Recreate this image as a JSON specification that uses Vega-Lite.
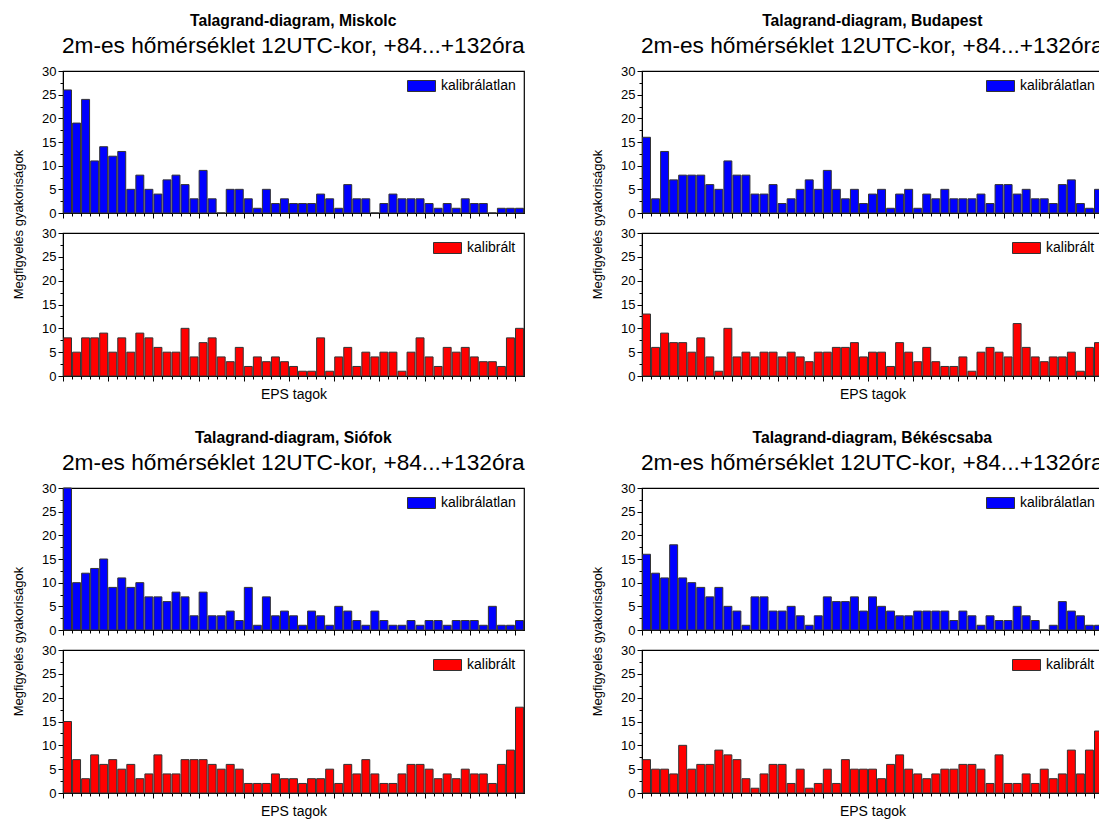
{
  "$schema": "https://vega.github.io/schema/vega-lite/v6.json",
  "padding": {"left": 11, "top": 13, "right": 0, "bottom": 0},
  "background": "white",
  "config": {
    "font": "Liberation Sans",
    "view": {"stroke": "#000", "strokeWidth": 1.2},
    "title": {"font": "Liberation Sans", "fontSize": 15.7, "fontWeight": "bold", "color": "#000", "subtitleFont": "Liberation Sans", "subtitleFontSize": 22.7, "subtitleColor": "#000", "subtitlePadding": 5, "offset": 6, "anchor": "middle", "dx": 25},
    "axis": {"labelFont": "Liberation Sans", "labelFontSize": 13, "labelColor": "#000", "titleFont": "Liberation Sans", "titleFontSize": 13, "titleFontWeight": "normal", "titleColor": "#000", "domainColor": "#000", "tickColor": "#000", "grid": false},
    "legend": {"orient": "top-right", "offset": 8, "padding": 0, "labelFont": "Liberation Sans", "labelFontSize": 14, "labelColor": "#000", "symbolType": "M-4.09,-1H1V1H-4.09Z", "symbolSize": 121, "symbolStrokeColor": "#333", "symbolStrokeWidth": 1, "labelOffset": 4}
  },
  "datasets": {
    "Miskolc": [
      {"tag":0,"kalibralatlan":26,"kalibralt":8},{"tag":1,"kalibralatlan":19,"kalibralt":5},{"tag":2,"kalibralatlan":24,"kalibralt":8},{"tag":3,"kalibralatlan":11,"kalibralt":8},{"tag":4,"kalibralatlan":14,"kalibralt":9},{"tag":5,"kalibralatlan":12,"kalibralt":5},{"tag":6,"kalibralatlan":13,"kalibralt":8},{"tag":7,"kalibralatlan":5,"kalibralt":5},{"tag":8,"kalibralatlan":8,"kalibralt":9},{"tag":9,"kalibralatlan":5,"kalibralt":8},
      {"tag":10,"kalibralatlan":4,"kalibralt":6},{"tag":11,"kalibralatlan":7,"kalibralt":5},{"tag":12,"kalibralatlan":8,"kalibralt":5},{"tag":13,"kalibralatlan":6,"kalibralt":10},{"tag":14,"kalibralatlan":3,"kalibralt":4},{"tag":15,"kalibralatlan":9,"kalibralt":7},{"tag":16,"kalibralatlan":3,"kalibralt":8},{"tag":17,"kalibralatlan":0,"kalibralt":4},{"tag":18,"kalibralatlan":5,"kalibralt":3},{"tag":19,"kalibralatlan":5,"kalibralt":6},
      {"tag":20,"kalibralatlan":3,"kalibralt":2},{"tag":21,"kalibralatlan":1,"kalibralt":4},{"tag":22,"kalibralatlan":5,"kalibralt":3},{"tag":23,"kalibralatlan":2,"kalibralt":4},{"tag":24,"kalibralatlan":3,"kalibralt":3},{"tag":25,"kalibralatlan":2,"kalibralt":2},{"tag":26,"kalibralatlan":2,"kalibralt":1},{"tag":27,"kalibralatlan":2,"kalibralt":1},{"tag":28,"kalibralatlan":4,"kalibralt":8},{"tag":29,"kalibralatlan":3,"kalibralt":1},
      {"tag":30,"kalibralatlan":1,"kalibralt":4},{"tag":31,"kalibralatlan":6,"kalibralt":6},{"tag":32,"kalibralatlan":3,"kalibralt":2},{"tag":33,"kalibralatlan":3,"kalibralt":5},{"tag":34,"kalibralatlan":0,"kalibralt":4},{"tag":35,"kalibralatlan":2,"kalibralt":5},{"tag":36,"kalibralatlan":4,"kalibralt":5},{"tag":37,"kalibralatlan":3,"kalibralt":1},{"tag":38,"kalibralatlan":3,"kalibralt":5},{"tag":39,"kalibralatlan":3,"kalibralt":8},
      {"tag":40,"kalibralatlan":2,"kalibralt":4},{"tag":41,"kalibralatlan":1,"kalibralt":2},{"tag":42,"kalibralatlan":2,"kalibralt":6},{"tag":43,"kalibralatlan":1,"kalibralt":5},{"tag":44,"kalibralatlan":3,"kalibralt":6},{"tag":45,"kalibralatlan":2,"kalibralt":4},{"tag":46,"kalibralatlan":2,"kalibralt":3},{"tag":47,"kalibralatlan":0,"kalibralt":3},{"tag":48,"kalibralatlan":1,"kalibralt":2},{"tag":49,"kalibralatlan":1,"kalibralt":8},
      {"tag":50,"kalibralatlan":1,"kalibralt":10}
    ],
    "Budapest": [
      {"tag":0,"kalibralatlan":16,"kalibralt":13},{"tag":1,"kalibralatlan":3,"kalibralt":6},{"tag":2,"kalibralatlan":13,"kalibralt":9},{"tag":3,"kalibralatlan":7,"kalibralt":7},{"tag":4,"kalibralatlan":8,"kalibralt":7},{"tag":5,"kalibralatlan":8,"kalibralt":5},{"tag":6,"kalibralatlan":8,"kalibralt":8},{"tag":7,"kalibralatlan":6,"kalibralt":4},{"tag":8,"kalibralatlan":5,"kalibralt":1},{"tag":9,"kalibralatlan":11,"kalibralt":10},
      {"tag":10,"kalibralatlan":8,"kalibralt":4},{"tag":11,"kalibralatlan":8,"kalibralt":5},{"tag":12,"kalibralatlan":4,"kalibralt":4},{"tag":13,"kalibralatlan":4,"kalibralt":5},{"tag":14,"kalibralatlan":6,"kalibralt":5},{"tag":15,"kalibralatlan":2,"kalibralt":4},{"tag":16,"kalibralatlan":3,"kalibralt":5},{"tag":17,"kalibralatlan":5,"kalibralt":4},{"tag":18,"kalibralatlan":7,"kalibralt":3},{"tag":19,"kalibralatlan":5,"kalibralt":5},
      {"tag":20,"kalibralatlan":9,"kalibralt":5},{"tag":21,"kalibralatlan":5,"kalibralt":6},{"tag":22,"kalibralatlan":3,"kalibralt":6},{"tag":23,"kalibralatlan":5,"kalibralt":7},{"tag":24,"kalibralatlan":2,"kalibralt":4},{"tag":25,"kalibralatlan":4,"kalibralt":5},{"tag":26,"kalibralatlan":5,"kalibralt":5},{"tag":27,"kalibralatlan":1,"kalibralt":2},{"tag":28,"kalibralatlan":4,"kalibralt":7},{"tag":29,"kalibralatlan":5,"kalibralt":5},
      {"tag":30,"kalibralatlan":1,"kalibralt":3},{"tag":31,"kalibralatlan":4,"kalibralt":6},{"tag":32,"kalibralatlan":3,"kalibralt":3},{"tag":33,"kalibralatlan":5,"kalibralt":2},{"tag":34,"kalibralatlan":3,"kalibralt":2},{"tag":35,"kalibralatlan":3,"kalibralt":4},{"tag":36,"kalibralatlan":3,"kalibralt":1},{"tag":37,"kalibralatlan":4,"kalibralt":5},{"tag":38,"kalibralatlan":2,"kalibralt":6},{"tag":39,"kalibralatlan":6,"kalibralt":5},
      {"tag":40,"kalibralatlan":6,"kalibralt":4},{"tag":41,"kalibralatlan":4,"kalibralt":11},{"tag":42,"kalibralatlan":5,"kalibralt":6},{"tag":43,"kalibralatlan":3,"kalibralt":4},{"tag":44,"kalibralatlan":3,"kalibralt":3},{"tag":45,"kalibralatlan":2,"kalibralt":4},{"tag":46,"kalibralatlan":6,"kalibralt":4},{"tag":47,"kalibralatlan":7,"kalibralt":5},{"tag":48,"kalibralatlan":2,"kalibralt":1},{"tag":49,"kalibralatlan":1,"kalibralt":6},
      {"tag":50,"kalibralatlan":5,"kalibralt":7}
    ],
    "Siofok": [
      {"tag":0,"kalibralatlan":30,"kalibralt":15},{"tag":1,"kalibralatlan":10,"kalibralt":7},{"tag":2,"kalibralatlan":12,"kalibralt":3},{"tag":3,"kalibralatlan":13,"kalibralt":8},{"tag":4,"kalibralatlan":15,"kalibralt":6},{"tag":5,"kalibralatlan":9,"kalibralt":7},{"tag":6,"kalibralatlan":11,"kalibralt":5},{"tag":7,"kalibralatlan":9,"kalibralt":6},{"tag":8,"kalibralatlan":10,"kalibralt":3},{"tag":9,"kalibralatlan":7,"kalibralt":4},
      {"tag":10,"kalibralatlan":7,"kalibralt":8},{"tag":11,"kalibralatlan":6,"kalibralt":4},{"tag":12,"kalibralatlan":8,"kalibralt":4},{"tag":13,"kalibralatlan":7,"kalibralt":7},{"tag":14,"kalibralatlan":3,"kalibralt":7},{"tag":15,"kalibralatlan":8,"kalibralt":7},{"tag":16,"kalibralatlan":3,"kalibralt":6},{"tag":17,"kalibralatlan":3,"kalibralt":5},{"tag":18,"kalibralatlan":4,"kalibralt":6},{"tag":19,"kalibralatlan":2,"kalibralt":5},
      {"tag":20,"kalibralatlan":9,"kalibralt":2},{"tag":21,"kalibralatlan":1,"kalibralt":2},{"tag":22,"kalibralatlan":7,"kalibralt":2},{"tag":23,"kalibralatlan":3,"kalibralt":4},{"tag":24,"kalibralatlan":4,"kalibralt":3},{"tag":25,"kalibralatlan":3,"kalibralt":3},{"tag":26,"kalibralatlan":1,"kalibralt":2},{"tag":27,"kalibralatlan":4,"kalibralt":3},{"tag":28,"kalibralatlan":3,"kalibralt":3},{"tag":29,"kalibralatlan":1,"kalibralt":5},
      {"tag":30,"kalibralatlan":5,"kalibralt":2},{"tag":31,"kalibralatlan":4,"kalibralt":6},{"tag":32,"kalibralatlan":2,"kalibralt":4},{"tag":33,"kalibralatlan":1,"kalibralt":7},{"tag":34,"kalibralatlan":4,"kalibralt":4},{"tag":35,"kalibralatlan":2,"kalibralt":2},{"tag":36,"kalibralatlan":1,"kalibralt":2},{"tag":37,"kalibralatlan":1,"kalibralt":4},{"tag":38,"kalibralatlan":2,"kalibralt":6},{"tag":39,"kalibralatlan":1,"kalibralt":6},
      {"tag":40,"kalibralatlan":2,"kalibralt":5},{"tag":41,"kalibralatlan":2,"kalibralt":3},{"tag":42,"kalibralatlan":1,"kalibralt":4},{"tag":43,"kalibralatlan":2,"kalibralt":3},{"tag":44,"kalibralatlan":2,"kalibralt":5},{"tag":45,"kalibralatlan":2,"kalibralt":4},{"tag":46,"kalibralatlan":1,"kalibralt":4},{"tag":47,"kalibralatlan":5,"kalibralt":2},{"tag":48,"kalibralatlan":1,"kalibralt":6},{"tag":49,"kalibralatlan":1,"kalibralt":9},
      {"tag":50,"kalibralatlan":2,"kalibralt":18}
    ],
    "Bekescsaba": [
      {"tag":0,"kalibralatlan":16,"kalibralt":7},{"tag":1,"kalibralatlan":12,"kalibralt":5},{"tag":2,"kalibralatlan":11,"kalibralt":5},{"tag":3,"kalibralatlan":18,"kalibralt":4},{"tag":4,"kalibralatlan":11,"kalibralt":10},{"tag":5,"kalibralatlan":10,"kalibralt":5},{"tag":6,"kalibralatlan":9,"kalibralt":6},{"tag":7,"kalibralatlan":7,"kalibralt":6},{"tag":8,"kalibralatlan":9,"kalibralt":9},{"tag":9,"kalibralatlan":5,"kalibralt":8},
      {"tag":10,"kalibralatlan":4,"kalibralt":7},{"tag":11,"kalibralatlan":1,"kalibralt":3},{"tag":12,"kalibralatlan":7,"kalibralt":1},{"tag":13,"kalibralatlan":7,"kalibralt":4},{"tag":14,"kalibralatlan":4,"kalibralt":6},{"tag":15,"kalibralatlan":4,"kalibralt":6},{"tag":16,"kalibralatlan":5,"kalibralt":2},{"tag":17,"kalibralatlan":3,"kalibralt":5},{"tag":18,"kalibralatlan":1,"kalibralt":1},{"tag":19,"kalibralatlan":3,"kalibralt":2},
      {"tag":20,"kalibralatlan":7,"kalibralt":5},{"tag":21,"kalibralatlan":6,"kalibralt":2},{"tag":22,"kalibralatlan":6,"kalibralt":7},{"tag":23,"kalibralatlan":7,"kalibralt":5},{"tag":24,"kalibralatlan":4,"kalibralt":5},{"tag":25,"kalibralatlan":7,"kalibralt":5},{"tag":26,"kalibralatlan":5,"kalibralt":3},{"tag":27,"kalibralatlan":4,"kalibralt":6},{"tag":28,"kalibralatlan":3,"kalibralt":8},{"tag":29,"kalibralatlan":3,"kalibralt":5},
      {"tag":30,"kalibralatlan":4,"kalibralt":4},{"tag":31,"kalibralatlan":4,"kalibralt":3},{"tag":32,"kalibralatlan":4,"kalibralt":4},{"tag":33,"kalibralatlan":4,"kalibralt":5},{"tag":34,"kalibralatlan":2,"kalibralt":5},{"tag":35,"kalibralatlan":4,"kalibralt":6},{"tag":36,"kalibralatlan":3,"kalibralt":6},{"tag":37,"kalibralatlan":1,"kalibralt":5},{"tag":38,"kalibralatlan":3,"kalibralt":2},{"tag":39,"kalibralatlan":2,"kalibralt":8},
      {"tag":40,"kalibralatlan":2,"kalibralt":2},{"tag":41,"kalibralatlan":5,"kalibralt":2},{"tag":42,"kalibralatlan":3,"kalibralt":4},{"tag":43,"kalibralatlan":2,"kalibralt":2},{"tag":44,"kalibralatlan":0,"kalibralt":5},{"tag":45,"kalibralatlan":1,"kalibralt":3},{"tag":46,"kalibralatlan":6,"kalibralt":4},{"tag":47,"kalibralatlan":4,"kalibralt":9},{"tag":48,"kalibralatlan":3,"kalibralt":4},{"tag":49,"kalibralatlan":1,"kalibralt":9},
      {"tag":50,"kalibralatlan":1,"kalibralt":13}
    ]
  },
  "spacing": 27,
  "resolve": {"scale": {"color": "independent"}, "legend": {"color": "independent"}},
  "vconcat": [
    {
      "spacing": 65,
      "resolve": {"scale": {"color": "independent"}, "legend": {"color": "independent"}},
      "hconcat": [
        {
          "data": {"name": "Miskolc"},
          "title": {"text": "Talagrand-diagram, Miskolc", "subtitle": "2m-es hőmérséklet 12UTC-kor, +84...+132óra", "anchor": "middle", "dx": 25},
          "bounds": "flush",
          "spacing": 20,
          "resolve": {"scale": {"color": "independent"}, "legend": {"color": "independent"}},
          "vconcat": [
            {
              "width": 461, "height": 142,
              "mark": {"type": "bar", "stroke": "#333", "strokeWidth": 1},
              "encoding": {
                "x": {"field": "tag", "type": "ordinal", "scale": {"paddingInner": 0.12, "paddingOuter": 0.06}, "axis": {"labels": false, "title": null, "bandPosition": 0, "tickSize": {"condition": {"test": "datum.value % 5 === 0", "value": 5}, "value": 3}}},
                "y": {"field": "kalibralatlan", "type": "quantitative", "scale": {"domain": [0, 30], "nice": false}, "axis": {"values": [0,2.5,5,7.5,10,12.5,15,17.5,20,22.5,25,27.5,30], "labelExpr": "datum.value % 5 === 0 ? datum.label : ''", "tickSize": {"condition": {"test": "datum.value % 5 === 0", "value": 5}, "value": 3}, "title": "Megfigyelés gyakoriságok", "titleY": 153, "titlePadding": 16}},
                "color": {"datum": "kalibrálatlan", "type": "nominal", "scale": {"domain": ["kalibrálatlan"], "range": ["#0000ff"]}, "legend": {"title": null}}
              }
            },
            {
              "width": 461, "height": 143,
              "mark": {"type": "bar", "stroke": "#333", "strokeWidth": 1},
              "encoding": {
                "x": {"field": "tag", "type": "ordinal", "scale": {"paddingInner": 0.12, "paddingOuter": 0.06}, "axis": {"labels": false, "title": "EPS tagok", "titleFontSize": 14, "titlePadding": 6, "bandPosition": 0, "tickSize": {"condition": {"test": "datum.value % 5 === 0", "value": 5}, "value": 3}}},
                "y": {"field": "kalibralt", "type": "quantitative", "scale": {"domain": [0, 30], "nice": false}, "axis": {"values": [0,2.5,5,7.5,10,12.5,15,17.5,20,22.5,25,27.5,30], "labelExpr": "datum.value % 5 === 0 ? datum.label : ''", "tickSize": {"condition": {"test": "datum.value % 5 === 0", "value": 5}, "value": 3}, "title": null}},
                "color": {"datum": "kalibrált", "type": "nominal", "scale": {"domain": ["kalibrált"], "range": ["#ff0000"]}, "legend": {"title": null}}
              }
            }
          ]
        },
        {
          "data": {"name": "Budapest"},
          "title": {"text": "Talagrand-diagram, Budapest", "subtitle": "2m-es hőmérséklet 12UTC-kor, +84...+132óra", "anchor": "middle", "dx": 25},
          "bounds": "flush",
          "spacing": 20,
          "resolve": {"scale": {"color": "independent"}, "legend": {"color": "independent"}},
          "vconcat": [
            {
              "width": 461, "height": 142,
              "mark": {"type": "bar", "stroke": "#333", "strokeWidth": 1},
              "encoding": {
                "x": {"field": "tag", "type": "ordinal", "scale": {"paddingInner": 0.12, "paddingOuter": 0.06}, "axis": {"labels": false, "title": null, "bandPosition": 0, "tickSize": {"condition": {"test": "datum.value % 5 === 0", "value": 5}, "value": 3}}},
                "y": {"field": "kalibralatlan", "type": "quantitative", "scale": {"domain": [0, 30], "nice": false}, "axis": {"values": [0,2.5,5,7.5,10,12.5,15,17.5,20,22.5,25,27.5,30], "labelExpr": "datum.value % 5 === 0 ? datum.label : ''", "tickSize": {"condition": {"test": "datum.value % 5 === 0", "value": 5}, "value": 3}, "title": "Megfigyelés gyakoriságok", "titleY": 153, "titlePadding": 16}},
                "color": {"datum": "kalibrálatlan", "type": "nominal", "scale": {"domain": ["kalibrálatlan"], "range": ["#0000ff"]}, "legend": {"title": null}}
              }
            },
            {
              "width": 461, "height": 143,
              "mark": {"type": "bar", "stroke": "#333", "strokeWidth": 1},
              "encoding": {
                "x": {"field": "tag", "type": "ordinal", "scale": {"paddingInner": 0.12, "paddingOuter": 0.06}, "axis": {"labels": false, "title": "EPS tagok", "titleFontSize": 14, "titlePadding": 6, "bandPosition": 0, "tickSize": {"condition": {"test": "datum.value % 5 === 0", "value": 5}, "value": 3}}},
                "y": {"field": "kalibralt", "type": "quantitative", "scale": {"domain": [0, 30], "nice": false}, "axis": {"values": [0,2.5,5,7.5,10,12.5,15,17.5,20,22.5,25,27.5,30], "labelExpr": "datum.value % 5 === 0 ? datum.label : ''", "tickSize": {"condition": {"test": "datum.value % 5 === 0", "value": 5}, "value": 3}, "title": null}},
                "color": {"datum": "kalibrált", "type": "nominal", "scale": {"domain": ["kalibrált"], "range": ["#ff0000"]}, "legend": {"title": null}}
              }
            }
          ]
        }
      ]
    },
    {
      "spacing": 65,
      "resolve": {"scale": {"color": "independent"}, "legend": {"color": "independent"}},
      "hconcat": [
        {
          "data": {"name": "Siofok"},
          "title": {"text": "Talagrand-diagram, Siófok", "subtitle": "2m-es hőmérséklet 12UTC-kor, +84...+132óra", "anchor": "middle", "dx": 25},
          "bounds": "flush",
          "spacing": 20,
          "resolve": {"scale": {"color": "independent"}, "legend": {"color": "independent"}},
          "vconcat": [
            {
              "width": 461, "height": 142,
              "mark": {"type": "bar", "stroke": "#333", "strokeWidth": 1},
              "encoding": {
                "x": {"field": "tag", "type": "ordinal", "scale": {"paddingInner": 0.12, "paddingOuter": 0.06}, "axis": {"labels": false, "title": null, "bandPosition": 0, "tickSize": {"condition": {"test": "datum.value % 5 === 0", "value": 5}, "value": 3}}},
                "y": {"field": "kalibralatlan", "type": "quantitative", "scale": {"domain": [0, 30], "nice": false}, "axis": {"values": [0,2.5,5,7.5,10,12.5,15,17.5,20,22.5,25,27.5,30], "labelExpr": "datum.value % 5 === 0 ? datum.label : ''", "tickSize": {"condition": {"test": "datum.value % 5 === 0", "value": 5}, "value": 3}, "title": "Megfigyelés gyakoriságok", "titleY": 153, "titlePadding": 16}},
                "color": {"datum": "kalibrálatlan", "type": "nominal", "scale": {"domain": ["kalibrálatlan"], "range": ["#0000ff"]}, "legend": {"title": null}}
              }
            },
            {
              "width": 461, "height": 143,
              "mark": {"type": "bar", "stroke": "#333", "strokeWidth": 1},
              "encoding": {
                "x": {"field": "tag", "type": "ordinal", "scale": {"paddingInner": 0.12, "paddingOuter": 0.06}, "axis": {"labels": false, "title": "EPS tagok", "titleFontSize": 14, "titlePadding": 6, "bandPosition": 0, "tickSize": {"condition": {"test": "datum.value % 5 === 0", "value": 5}, "value": 3}}},
                "y": {"field": "kalibralt", "type": "quantitative", "scale": {"domain": [0, 30], "nice": false}, "axis": {"values": [0,2.5,5,7.5,10,12.5,15,17.5,20,22.5,25,27.5,30], "labelExpr": "datum.value % 5 === 0 ? datum.label : ''", "tickSize": {"condition": {"test": "datum.value % 5 === 0", "value": 5}, "value": 3}, "title": null}},
                "color": {"datum": "kalibrált", "type": "nominal", "scale": {"domain": ["kalibrált"], "range": ["#ff0000"]}, "legend": {"title": null}}
              }
            }
          ]
        },
        {
          "data": {"name": "Bekescsaba"},
          "title": {"text": "Talagrand-diagram, Békéscsaba", "subtitle": "2m-es hőmérséklet 12UTC-kor, +84...+132óra", "anchor": "middle", "dx": 25},
          "bounds": "flush",
          "spacing": 20,
          "resolve": {"scale": {"color": "independent"}, "legend": {"color": "independent"}},
          "vconcat": [
            {
              "width": 461, "height": 142,
              "mark": {"type": "bar", "stroke": "#333", "strokeWidth": 1},
              "encoding": {
                "x": {"field": "tag", "type": "ordinal", "scale": {"paddingInner": 0.12, "paddingOuter": 0.06}, "axis": {"labels": false, "title": null, "bandPosition": 0, "tickSize": {"condition": {"test": "datum.value % 5 === 0", "value": 5}, "value": 3}}},
                "y": {"field": "kalibralatlan", "type": "quantitative", "scale": {"domain": [0, 30], "nice": false}, "axis": {"values": [0,2.5,5,7.5,10,12.5,15,17.5,20,22.5,25,27.5,30], "labelExpr": "datum.value % 5 === 0 ? datum.label : ''", "tickSize": {"condition": {"test": "datum.value % 5 === 0", "value": 5}, "value": 3}, "title": "Megfigyelés gyakoriságok", "titleY": 153, "titlePadding": 16}},
                "color": {"datum": "kalibrálatlan", "type": "nominal", "scale": {"domain": ["kalibrálatlan"], "range": ["#0000ff"]}, "legend": {"title": null}}
              }
            },
            {
              "width": 461, "height": 143,
              "mark": {"type": "bar", "stroke": "#333", "strokeWidth": 1},
              "encoding": {
                "x": {"field": "tag", "type": "ordinal", "scale": {"paddingInner": 0.12, "paddingOuter": 0.06}, "axis": {"labels": false, "title": "EPS tagok", "titleFontSize": 14, "titlePadding": 6, "bandPosition": 0, "tickSize": {"condition": {"test": "datum.value % 5 === 0", "value": 5}, "value": 3}}},
                "y": {"field": "kalibralt", "type": "quantitative", "scale": {"domain": [0, 30], "nice": false}, "axis": {"values": [0,2.5,5,7.5,10,12.5,15,17.5,20,22.5,25,27.5,30], "labelExpr": "datum.value % 5 === 0 ? datum.label : ''", "tickSize": {"condition": {"test": "datum.value % 5 === 0", "value": 5}, "value": 3}, "title": null}},
                "color": {"datum": "kalibrált", "type": "nominal", "scale": {"domain": ["kalibrált"], "range": ["#ff0000"]}, "legend": {"title": null}}
              }
            }
          ]
        }
      ]
    }
  ]
}
